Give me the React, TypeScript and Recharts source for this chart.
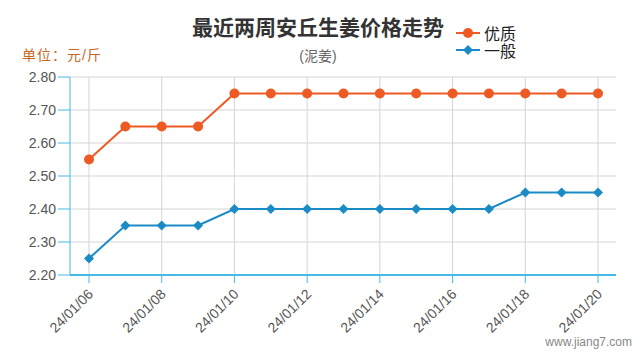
import { CartesianGrid, Line, LineChart, XAxis, YAxis } from "recharts";

const dates = [
  "24/01/06", "24/01/07", "24/01/08", "24/01/09", "24/01/10",
  "24/01/11", "24/01/12", "24/01/13", "24/01/14", "24/01/15",
  "24/01/16", "24/01/17", "24/01/18", "24/01/19", "24/01/20",
];
const premium = [2.55, 2.65, 2.65, 2.65, 2.75, 2.75, 2.75, 2.75, 2.75, 2.75, 2.75, 2.75, 2.75, 2.75, 2.75];
const ordinary = [2.25, 2.35, 2.35, 2.35, 2.4, 2.4, 2.4, 2.4, 2.4, 2.4, 2.4, 2.4, 2.45, 2.45, 2.45];
const yTicks = [2.2, 2.3, 2.4, 2.5, 2.6, 2.7, 2.8];

const data = dates.map((d, i) => ({ date: d, premium: premium[i], ordinary: ordinary[i] }));

const ORANGE = "#ee5a24";
const BLUE = "#1b8bc6";
const AXIS = "#45b9e6";
const FONT = "Arial, 'Liberation Sans', 'Noto Sans CJK SC', sans-serif";

function Diamond(props: any) {
  const { cx, cy } = props;
  if (cx == null || cy == null) return null;
  const r = 5;
  return (
    <path
      d={`M${cx},${cy - r}L${cx + r},${cy}L${cx},${cy + r}L${cx - r},${cy}Z`}
      fill={BLUE}
    />
  );
}

function XTick(props: any) {
  const { x, y, payload } = props;
  return (
    <text
      x={x + 5}
      y={y + 10}
      transform={`rotate(-45 ${x + 5} ${y + 10})`}
      textAnchor="end"
      fontSize={14}
      fill="#555"
      fontFamily={FONT}
    >
      {payload.value}
    </text>
  );
}

function LegendBox() {
  const items = [
    { name: "优质", color: ORANGE, shape: "circle" },
    { name: "一般", color: BLUE, shape: "diamond" },
  ];
  return (
    <div style={{ position: "absolute", left: 456, top: 24, fontFamily: FONT }}>
      {items.map((it) => (
        <div key={it.name} style={{ display: "flex", alignItems: "center", height: 17 }}>
          <svg width={26} height={14}>
            <line x1={0} y1={7} x2={24} y2={7} stroke={it.color} strokeWidth={2} />
            {it.shape === "circle" ? (
              <circle cx={12} cy={7} r={5} fill={it.color} />
            ) : (
              <path d="M12,2L17,7L12,12L7,7Z" fill={it.color} />
            )}
          </svg>
          <span style={{ fontSize: 16, color: "#222", marginLeft: 2 }}>{it.name}</span>
        </div>
      ))}
    </div>
  );
}

export default function App() {
  return (
    <div style={{ position: "absolute", left: 0, top: 0, width: 640, height: 360, background: "#fff", fontFamily: FONT }}>
      <LineChart
        width={640}
        height={360}
        data={data}
        margin={{ top: 77, right: 24, bottom: 25, left: 0 }}
      >
        <CartesianGrid stroke="#d5d5d5" strokeWidth={1} syncWithTicks />
        <XAxis
          dataKey="date"
          interval={1}
          padding={{ left: 19, right: 18 }}
          height={60}
          tick={<XTick />}
          tickSize={8}
          tickLine={{ stroke: AXIS }}
          axisLine={{ stroke: AXIS, strokeWidth: 2 }}
        />
        <YAxis
          domain={[2.2, 2.8]}
          ticks={yTicks}
          width={70}
          tickSize={12}
          tickLine={{ stroke: AXIS }}
          axisLine={{ stroke: AXIS }}
          tick={{ fontSize: 14, fill: "#555", fontFamily: FONT }}
          tickFormatter={(v: number) => v.toFixed(2)}
        />
        <Line
          dataKey="premium"
          name="优质"
          stroke={ORANGE}
          strokeWidth={2}
          dot={{ r: 5, fill: ORANGE, stroke: ORANGE, strokeWidth: 0 }}
          activeDot={false}
          isAnimationActive={false}
        />
        <Line
          dataKey="ordinary"
          name="一般"
          stroke={BLUE}
          strokeWidth={2}
          dot={<Diamond />}
          activeDot={false}
          isAnimationActive={false}
        />
      </LineChart>
      <div style={{ position: "absolute", left: 0, width: 636, top: 11, textAlign: "center", fontSize: 21, fontWeight: "bold", color: "#333" }}>
        最近两周安丘生姜价格走势
      </div>
      <div style={{ position: "absolute", left: 0, width: 636, top: 45, textAlign: "center", fontSize: 14, color: "#666" }}>
        (泥姜)
      </div>
      <div style={{ position: "absolute", left: 22, top: 44, fontSize: 14, color: "#c8671f", letterSpacing: 1 }}>
        单位：元/斤
      </div>
      <div style={{ position: "absolute", right: 8, top: 335, fontSize: 12, color: "#888" }}>
        www.jiang7.com
      </div>
      <LegendBox />
    </div>
  );
}
